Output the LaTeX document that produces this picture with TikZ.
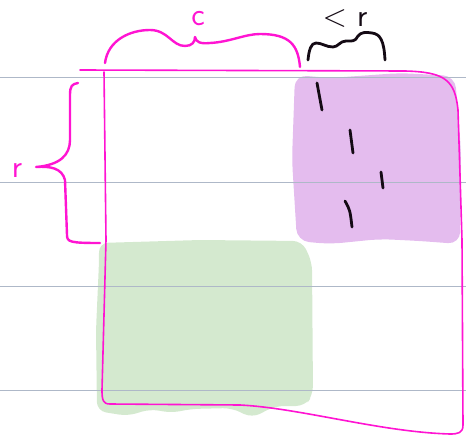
\documentclass[tikz,border=0pt]{standalone}
\usepackage{fontspec}
\usetikzlibrary{calc}
\definecolor{pen}{HTML}{FF14D2}
\definecolor{ink}{HTML}{140A14}
\definecolor{ruleline}{HTML}{AEB8C8}
\definecolor{hlpurple}{HTML}{E4BCEE}
\definecolor{hlgreen}{HTML}{D4E9CF}
\tikzset{
  every node/.style={font=\sffamily},
  ruled/.style={draw=ruleline, line width=1pt},
  penline/.style={draw=pen, line width=2.4pt, line cap=round, line join=round},
  frameline/.style={draw=pen, line width=1.6pt, line cap=round, line join=round},
  inkline/.style={draw=ink, line width=2.8pt, line cap=round, line join=round},
  hand/.style={font=\sffamily\fontsize{32}{32}\selectfont, inner sep=0pt, anchor=base},
}

\begin{document}
\begin{tikzpicture}[x=1pt,y=-1pt]
\useasboundingbox (0,0) rectangle (466,439);

% --- highlighter fills ---
\fill[hlpurple, rounded corners=12pt] (295,75) -- (330,78) -- (400,73) -- (455,76)
  -- (461,150) -- (460,244) -- (420,241) -- (380,239) -- (330,244) -- (297,241)
  -- (292,160) -- cycle;
\fill[hlgreen, rounded corners=9pt] (99,243) -- (200,240) -- (302,241) -- (312,262)
  -- (313,395) -- (305,406) -- (275,406) -- (252,418) -- (232,408) -- (190,409)
  -- (172,413) -- (150,409) -- (128,416) -- (97,411) -- (96,330) -- (99,262) -- cycle;

% --- ruled paper ---
\foreach \y in {77,182,286,390}
  \draw[ruled] (0,\y) -- (466,\y);

% --- outer frame ---
\draw[frameline] (80,70) -- (405,71) .. controls (445,72) and (455,80) .. (458,110)
  -- (462,240) -- (463,425) .. controls (463,433) and (458,434) .. (450,434)
  .. controls (380,432) and (300,408) .. (240,405) -- (110,404)
  .. controls (103,404) and (102,400) .. (102,390) -- (106,240) -- (104,72);

% --- dashed split in the purple block ---
\draw[inkline] (317,83) -- (322,110);
\draw[inkline] (350,130) -- (353,153);
\draw[inkline] (381,172) -- (383,188);
\draw[inkline] (345,201) .. controls (350,210) .. (352,227);

% --- braces ---
\draw[penline] (105,63) .. controls (108,40) and (130,30) .. (150,30)
  .. controls (168,30) and (172,46) .. (185,46) .. controls (192,46) and (195,42) .. (195,37)
  .. controls (196,42) and (200,44) .. (210,43) .. controls (230,42) and (245,34) .. (260,34)
  .. controls (290,34) and (298,45) .. (300,67);
\draw[inkline] (308,60) .. controls (309,50) and (311,43) .. (316,43)
  .. controls (322,43) and (326,47) .. (333,47) .. controls (338,47) and (340,41) .. (346,41)
  .. controls (352,41) and (355,42) .. (358,36) .. controls (361,32) and (366,32) .. (372,33)
  .. controls (380,34) and (384,40) .. (385,60);
\draw[penline] (78,83) .. controls (72,84) and (70,86) .. (70,95) -- (70,140)
  .. controls (70,155) and (60,165) .. (36,167) .. controls (50,166) and (62,168) .. (65,180)
  -- (67,235) .. controls (67,242) and (70,243) .. (100,243);

% --- labels ---
\node[hand, text=pen] (lblc) at (198,25) {c};
\node[hand, text=pen] (lblr) at (17,177) {r};
\node[hand, text=ink] (lblltr) at (345,26) {< r};

\end{tikzpicture}
\end{document}
